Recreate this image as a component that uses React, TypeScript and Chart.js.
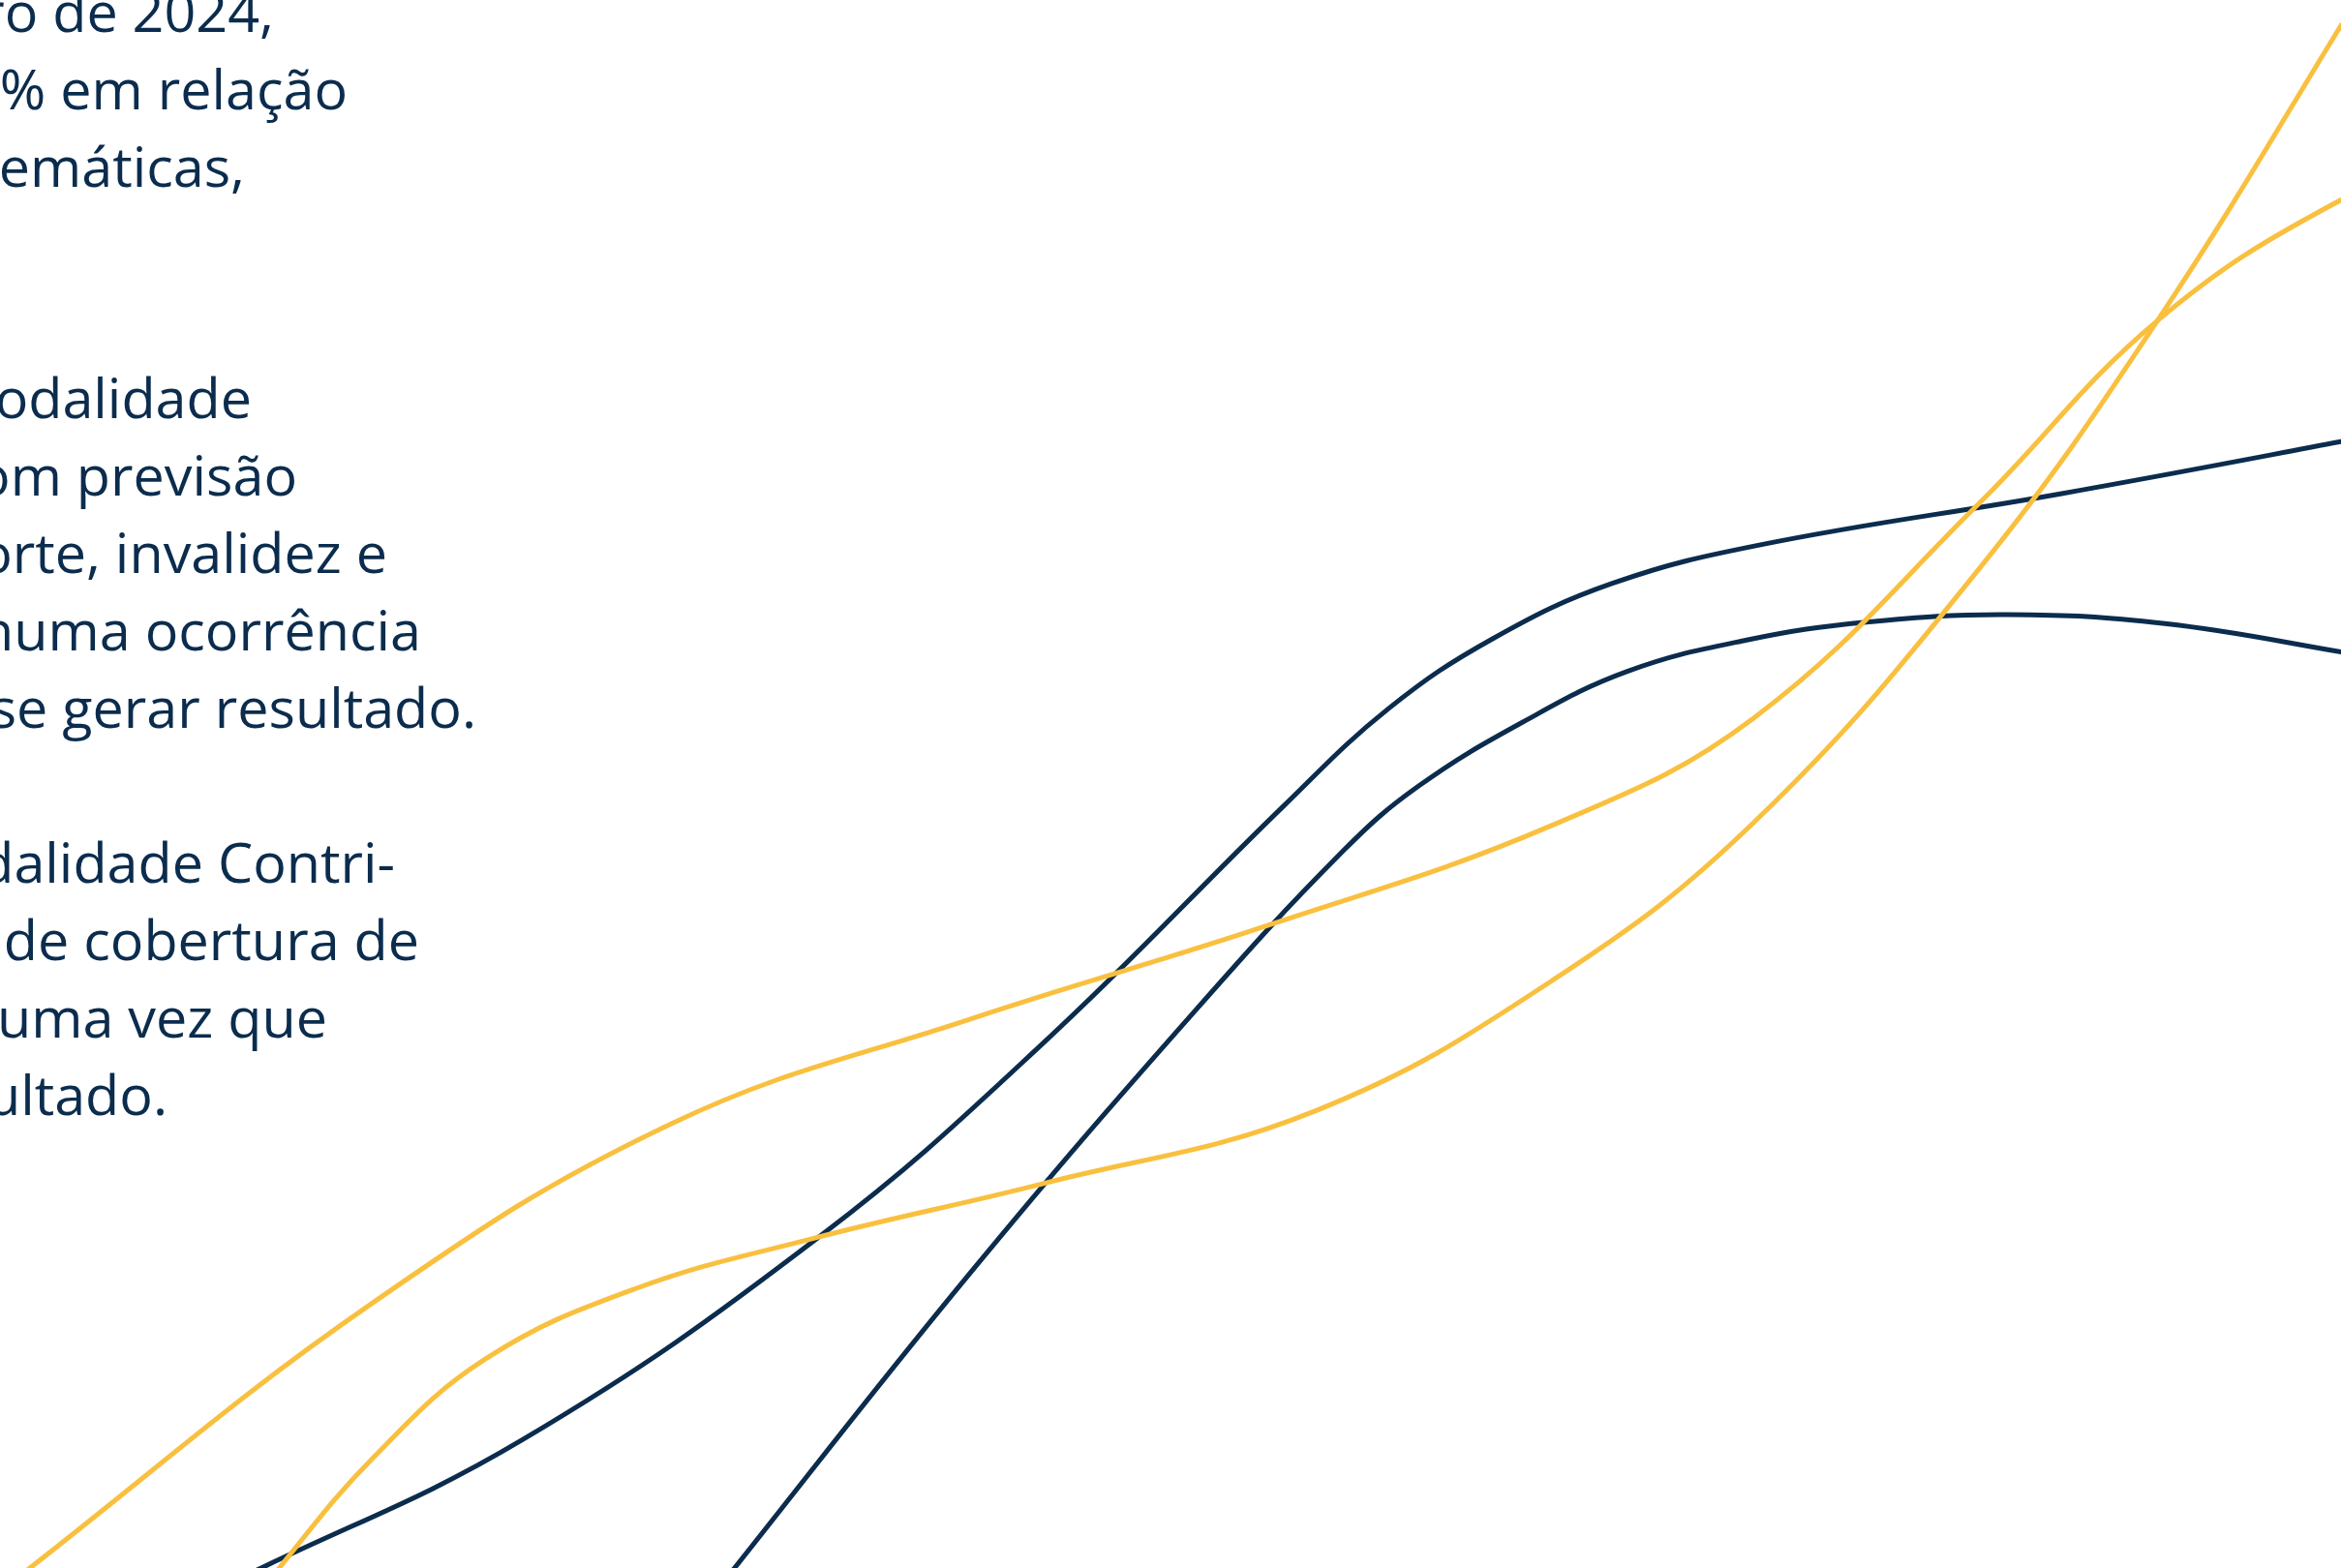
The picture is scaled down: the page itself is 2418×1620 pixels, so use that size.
import React, { useEffect, useRef } from "react";
import { Chart, registerables } from "chart.js";

Chart.register(...registerables);

// ---- Data (x along the horizontal, y measured upward) ----
const yellowAX = [-60, 20, 250, 450, 650, 850, 1040, 1175, 1325, 1445, 1568, 1650];
const yellowAY = [-64, 0, 178, 298, 368, 431, 498, 570, 713, 836, 917, 946];

const yellowBX = [150, 187, 250, 325, 425, 545, 700, 880, 1040, 1175, 1325, 1445, 1568, 1610];
const yellowBY = [-49, 0, 74, 140, 187, 221, 258, 306, 394, 500, 669, 836, 1034, 1106];

const navyCX = [100, 175, 350, 550, 700, 860, 930, 1000, 1080, 1180, 1380, 1568, 1650];
const navyCY = [-34, 0, 86, 223, 353, 511, 576, 623, 660, 686, 720, 755, 771];

const navyDX = [450, 492, 650, 800, 900, 950, 1020, 1090, 1170, 1250, 1345, 1450, 1568, 1650];
const navyDY = [-54, 0, 198, 373, 481, 524, 567, 601, 622, 634, 639, 633, 614, 599];

const X_MIN = 0;
const X_MAX = 1568;
const Y_MIN = 0;
const Y_MAX = 1051;

// ---- Text lines (fragments visible at the left edge) ----
const textLines = [
  "bro de 2024,",
  "1% em relação",
  "temáticas,",
  "modalidade",
  "com previsão",
  "morte, invalidez e",
  "enhuma ocorrência",
  "sse gerar resultado.",
  "odalidade Contri-",
  "o de cobertura de",
  "a uma vez que",
  "esultado.",
];
const textEnds = [283, 359, 253, 260, 307, 400, 435, 492, 408, 433, 338, 173];
const textBaselines = [33, 113, 193, 432, 512, 592, 672, 752, 912, 992, 1072, 1152];

const YELLOW = "#F9C03F";
const NAVY = "#0B2C4D";
const W = 2418;
const H = 1620;

function pts(xs: number[], ys: number[]) {
  return xs.map((x, i) => ({ x, y: ys[i] }));
}

export default function App() {
  const ref = useRef<HTMLCanvasElement | null>(null);

  useEffect(() => {
    if (!ref.current) return;
    const mk = (data: { x: number; y: number }[], color: string) => ({
      data,
      borderColor: color,
      backgroundColor: color,
      borderWidth: 5,
      pointRadius: 0,
      fill: false,
      tension: 0.4,
      capBezierPoints: false,
      borderCapStyle: "round" as const,
      borderJoinStyle: "round" as const,
    });
    const chart = new Chart(ref.current, {
      type: "line",
      data: {
        datasets: [
          mk(pts(yellowAX, yellowAY), YELLOW),
          mk(pts(yellowBX, yellowBY), YELLOW),
          mk(pts(navyCX, navyCY), NAVY),
          mk(pts(navyDX, navyDY), NAVY),
        ],
      },
      options: {
        animation: false,
        responsive: false,
        devicePixelRatio: 1,
        layout: { padding: 0 },
        elements: { line: { capBezierPoints: false } },
        plugins: { legend: { display: false }, tooltip: { enabled: false } },
        scales: {
          x: { type: "linear", min: X_MIN, max: X_MAX, display: false },
          y: { type: "linear", min: Y_MIN, max: Y_MAX, display: false },
        },
      },
    });
    return () => chart.destroy();
  }, []);

  return (
    <div style={{ position: "fixed", left: 0, top: 0, width: W, height: H, background: "#ffffff", overflow: "hidden" }}>
      <canvas ref={ref} width={W} height={H} style={{ position: "absolute", left: 0, top: 0, width: W, height: H }} />
      <svg width={W} height={H} style={{ position: "absolute", left: 0, top: 0, pointerEvents: "none" }}>
        {textLines.map((t, i) => (
          <text
            key={i}
            x={textEnds[i]}
            y={textBaselines[i]}
            textAnchor="end"
            fill={NAVY}
            style={{ fontFamily: "'Open Sans', sans-serif", fontSize: 57.5, fontWeight: 400 }}
          >
            {t}
          </text>
        ))}
      </svg>
    </div>
  );
}
